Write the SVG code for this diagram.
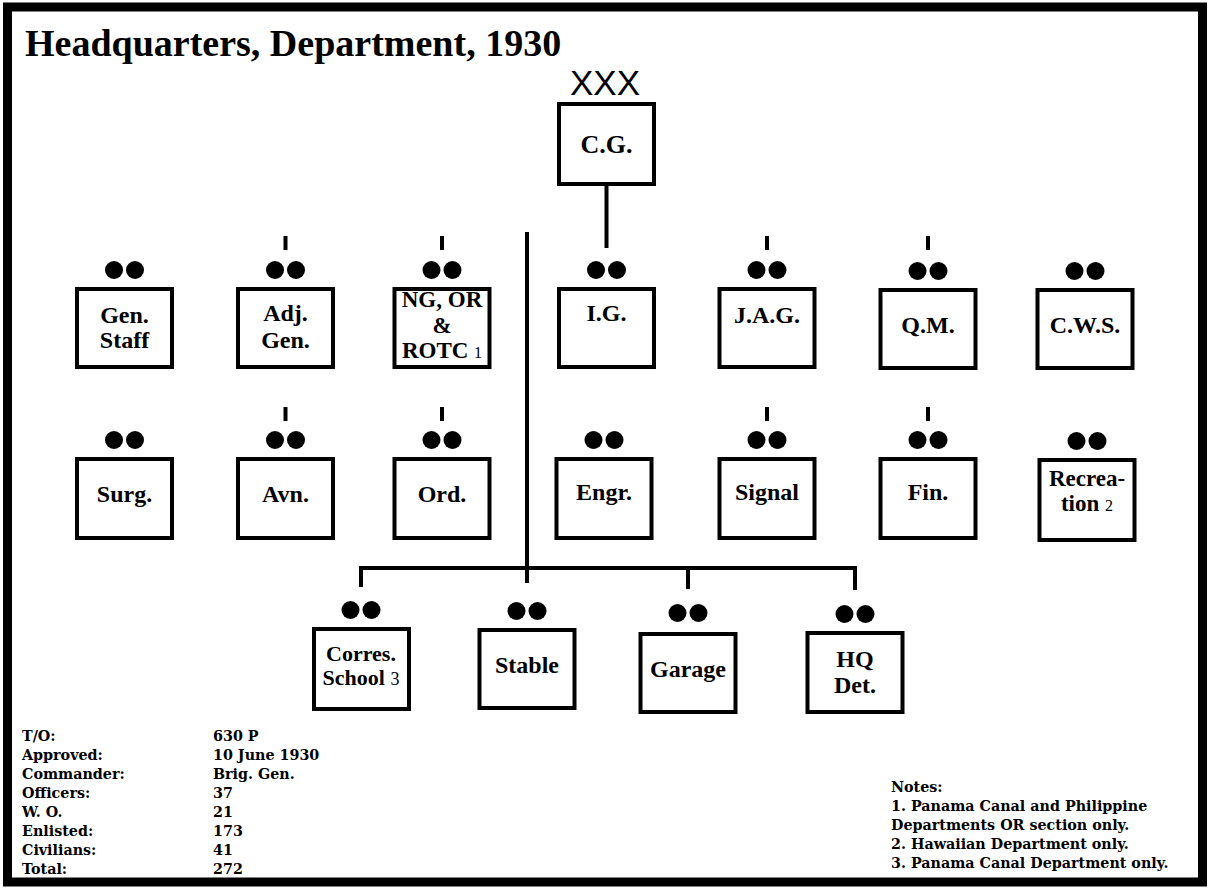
<svg xmlns="http://www.w3.org/2000/svg" xmlns:xlink="http://www.w3.org/1999/xlink" width="1208" height="888" viewBox="0 0 1208 888">
<style>
.frame{fill:#fff;stroke:#000;stroke-width:9}
.box{fill:#fff;stroke:#000;stroke-width:4}
.ln{fill:none;stroke:#000;stroke-width:4;stroke-linecap:butt;stroke-linejoin:miter}
.lbl{font-family:"Liberation Serif","Times New Roman",serif;font-weight:bold;font-size:24px;text-anchor:middle;fill:#000}
.sm{font-weight:normal;font-size:16px}
.title{font-family:"Liberation Serif","Times New Roman",serif;font-weight:bold;font-size:38px;fill:#000}
.xxx{font-family:"Liberation Sans",Arial,sans-serif;font-size:35px;text-anchor:middle;fill:#000}
.info{font-family:"DejaVu Serif",serif;font-weight:bold;font-size:14.3px;fill:#000}
</style>
<defs>
<g id="dots"><circle cx="-10.5" cy="0" r="9"/><circle cx="10.5" cy="0" r="9"/></g>
</defs>
<rect class="frame" x="7.5" y="7" width="1195" height="875"/>
<text class="title" x="25" y="56">Headquarters, Department, 1930</text>

<g id="connectors">
<line class="ln" x1="606.5" y1="186" x2="606.5" y2="248"/>
<line class="ln" x1="527" y1="232" x2="527" y2="583"/>
<path class="ln" d="M361 587 V568 H855 V590"/>
<line class="ln" x1="688" y1="568" x2="688" y2="589"/>
<line class="ln" x1="285.5" y1="236" x2="285.5" y2="250"/>
<line class="ln" x1="442" y1="236" x2="442" y2="250"/>
<line class="ln" x1="767" y1="236" x2="767" y2="250"/>
<line class="ln" x1="928" y1="236" x2="928" y2="250"/>
<line class="ln" x1="285.5" y1="407" x2="285.5" y2="421"/>
<line class="ln" x1="442" y1="407" x2="442" y2="421"/>
<line class="ln" x1="767" y1="407" x2="767" y2="421"/>
<line class="ln" x1="928" y1="407" x2="928" y2="421"/>
</g>

<g id="cg">
<text class="xxx" x="605" y="95">XXX</text>
<rect class="box" x="559" y="104" width="95" height="80"/>
<text class="lbl" x="606.5" y="153" style="font-size:26px">C.G.</text>
</g>

<g id="gen-staff">
<use xlink:href="#dots" x="124.5" y="270"/>
<rect class="box" x="77" y="289" width="95" height="78"/>
<text class="lbl" x="124.5" y="323">Gen.</text>
<text class="lbl" x="124.5" y="348">Staff</text>
</g>
<g id="adj-gen">
<use xlink:href="#dots" x="285.5" y="270"/>
<rect class="box" x="238" y="289" width="95" height="78"/>
<text class="lbl" x="285.5" y="321">Adj.</text>
<text class="lbl" x="285.5" y="348">Gen.</text>
</g>
<g id="ng-or-rotc">
<use xlink:href="#dots" x="442" y="270"/>
<rect class="box" x="394.5" y="289" width="95" height="78"/>
<text class="lbl" x="442" y="307" style="font-size:23px">NG, OR</text>
<text class="lbl" x="442" y="333" style="font-size:23px">&amp;</text>
<text class="lbl" x="442" y="358" style="font-size:23px">ROTC <tspan class="sm">1</tspan></text>
</g>
<g id="ig">
<use xlink:href="#dots" x="606.5" y="270"/>
<rect class="box" x="559" y="289" width="95" height="78"/>
<text class="lbl" x="606.5" y="321">I.G.</text>
</g>
<g id="jag">
<use xlink:href="#dots" x="767" y="270"/>
<rect class="box" x="719.5" y="289" width="95" height="78"/>
<text class="lbl" x="767" y="323">J.A.G.</text>
</g>
<g id="qm">
<use xlink:href="#dots" x="928" y="271"/>
<rect class="box" x="880.5" y="290" width="95" height="78"/>
<text class="lbl" x="928" y="333">Q.M.</text>
</g>
<g id="cws">
<use xlink:href="#dots" x="1085" y="271"/>
<rect class="box" x="1037.5" y="290" width="95" height="78"/>
<text class="lbl" x="1085" y="333">C.W.S.</text>
</g>

<g id="surg">
<use xlink:href="#dots" x="124.5" y="440"/>
<rect class="box" x="77" y="459" width="95" height="79"/>
<text class="lbl" x="124.5" y="502">Surg.</text>
</g>
<g id="avn">
<use xlink:href="#dots" x="285.5" y="440"/>
<rect class="box" x="238" y="459" width="95" height="79"/>
<text class="lbl" x="285.5" y="502">Avn.</text>
</g>
<g id="ord">
<use xlink:href="#dots" x="442" y="440"/>
<rect class="box" x="394.5" y="459" width="95" height="79"/>
<text class="lbl" x="442" y="502">Ord.</text>
</g>
<g id="engr">
<use xlink:href="#dots" x="604" y="440"/>
<rect class="box" x="556.5" y="459" width="95" height="79"/>
<text class="lbl" x="604" y="500">Engr.</text>
</g>
<g id="signal">
<use xlink:href="#dots" x="767" y="440"/>
<rect class="box" x="719.5" y="459" width="95" height="79"/>
<text class="lbl" x="767" y="500">Signal</text>
</g>
<g id="fin">
<use xlink:href="#dots" x="928" y="440"/>
<rect class="box" x="880.5" y="459" width="95" height="79"/>
<text class="lbl" x="928" y="500">Fin.</text>
</g>
<g id="recreation">
<use xlink:href="#dots" x="1087" y="441"/>
<rect class="box" x="1039.5" y="460" width="95" height="80"/>
<text class="lbl" x="1087" y="486" style="font-size:23px">Recrea-</text>
<text class="lbl" x="1087" y="511" style="font-size:23px">tion <tspan class="sm">2</tspan></text>
</g>

<g id="corres-school">
<use xlink:href="#dots" x="361" y="610"/>
<rect class="box" x="314" y="629" width="95" height="80"/>
<text class="lbl" x="361" y="661" style="font-size:22px">Corres.</text>
<text class="lbl" x="361" y="685" style="font-size:22px">School <tspan class="sm" style="font-size:18px">3</tspan></text>
</g>
<g id="stable">
<use xlink:href="#dots" x="527" y="611"/>
<rect class="box" x="479.5" y="630" width="95" height="78"/>
<text class="lbl" x="527" y="673">Stable</text>
</g>
<g id="garage">
<use xlink:href="#dots" x="688" y="613"/>
<rect class="box" x="640.5" y="634" width="95" height="78"/>
<text class="lbl" x="688" y="677">Garage</text>
</g>
<g id="hq-det">
<use xlink:href="#dots" x="855" y="614"/>
<rect class="box" x="807.5" y="633" width="95" height="79"/>
<text class="lbl" x="855" y="667">HQ</text>
<text class="lbl" x="855" y="693">Det.</text>
</g>

<g id="table">
<text class="info" x="22" y="741">T/O:</text><text class="info" x="213" y="741">630 P</text>
<text class="info" x="22" y="760">Approved:</text><text class="info" x="213" y="760">10 June 1930</text>
<text class="info" x="22" y="779">Commander:</text><text class="info" x="213" y="779">Brig. Gen.</text>
<text class="info" x="22" y="798">Officers:</text><text class="info" x="213" y="798">37</text>
<text class="info" x="22" y="817">W. O.</text><text class="info" x="213" y="817">21</text>
<text class="info" x="22" y="836">Enlisted:</text><text class="info" x="213" y="836">173</text>
<text class="info" x="22" y="855">Civilians:</text><text class="info" x="213" y="855">41</text>
<text class="info" x="22" y="874">Total:</text><text class="info" x="213" y="874">272</text>
</g>
<g id="notes">
<text class="info" x="891" y="792">Notes:</text>
<text class="info" x="891" y="811">1. Panama Canal and Philippine</text>
<text class="info" x="891" y="830">Departments OR section only.</text>
<text class="info" x="891" y="849">2. Hawaiian Department only.</text>
<text class="info" x="891" y="868">3. Panama Canal Department only.</text>
</g>
</svg>
